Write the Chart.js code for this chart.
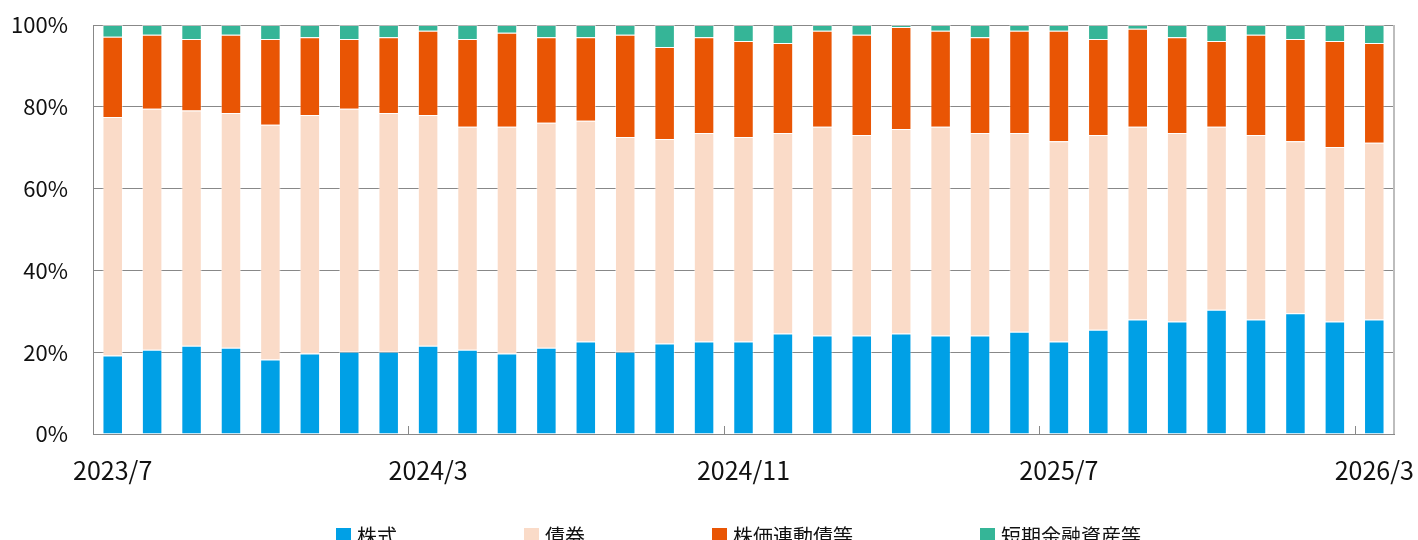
<!DOCTYPE html>
<html lang="ja">
<head>
<meta charset="utf-8">
<script src="https://cdn.jsdelivr.net/npm/chart.js@4/dist/chart.umd.min.js"></script>
<style>
html, body { margin: 0; padding: 0; background: #fff; overflow: hidden; }
#wrap { position: relative; width: 1418px; height: 540px; }
</style>
</head>
<body>
<div id="wrap"><canvas id="assetChart"></canvas></div>
<script>
// 月次の資産構成比（%）
const months = [
    '2023/7', '2023/8', '2023/9', '2023/10', '2023/11', '2023/12',
    '2024/1', '2024/2', '2024/3', '2024/4', '2024/5', '2024/6',
    '2024/7', '2024/8', '2024/9', '2024/10', '2024/11', '2024/12',
    '2025/1', '2025/2', '2025/3', '2025/4', '2025/5', '2025/6',
    '2025/7', '2025/8', '2025/9', '2025/10', '2025/11', '2025/12',
    '2026/1', '2026/2', '2026/3'
];
const stocks = [
    19.2, 20.6, 21.6, 21.1, 18.2, 19.7, 20.1, 20.1, 21.6, 20.6, 19.7, 21.1,
    22.6, 20.1, 22.1, 22.6, 22.6, 24.6, 24.1, 24.1, 24.6, 24.1, 24.1, 25.0,
    22.6, 25.5, 28.0, 27.5, 30.4, 28.0, 29.5, 27.5, 28.0
];
const bonds = [
    58.3, 58.9, 57.5, 57.4, 57.4, 58.3, 59.4, 58.4, 56.4, 54.5, 55.4, 55.0,
    54.0, 52.5, 50.0, 51.0, 50.0, 49.0, 51.0, 49.0, 50.0, 51.0, 49.5, 48.6,
    49.0, 47.6, 47.1, 46.1, 44.7, 45.1, 42.1, 42.7, 43.2
];
const linkedBonds = [
    19.6, 18.1, 17.5, 19.1, 21.0, 19.0, 17.1, 18.5, 20.6, 21.5, 23.0, 20.9,
    20.4, 25.0, 22.5, 23.4, 23.5, 22.0, 23.5, 24.5, 24.9, 23.5, 23.4, 25.0,
    27.0, 23.5, 24.0, 23.4, 21.0, 24.5, 25.0, 25.9, 24.4
];
const shortTerm = [
    2.9, 2.4, 3.4, 2.4, 3.4, 3.0, 3.4, 3.0, 1.4, 3.4, 1.9, 3.0,
    3.0, 2.4, 5.4, 3.0, 3.9, 4.4, 1.4, 2.4, 0.5, 1.4, 3.0, 1.4,
    1.4, 3.4, 0.9, 3.0, 3.9, 2.4, 3.4, 3.9, 4.4
];
const yTicks = [0, 20, 40, 60, 80, 100];

const seriesNames = ['株式', '債券', '株価連動債等', '短期金融資産等'];
const seriesColors = ['#00a0e6', '#fadbc8', '#e95504', '#35b597'];
const seriesData = [stocks, bonds, linkedBonds, shortTerm];

const FONT = "'Noto Sans CJK JP', 'Noto Sans', sans-serif";

// 内側の目盛り・右枠・凡例
const extras = {
    id: 'extras',
    afterDraw(chart) {
        const { ctx, chartArea: a, scales: { x } } = chart;
        ctx.save();
        ctx.strokeStyle = '#bdbdbd';
        ctx.lineWidth = 2;
        ctx.beginPath();
        ctx.moveTo(a.right, a.top);
        ctx.lineTo(a.right, a.bottom);
        ctx.stroke();

        ctx.strokeStyle = '#888';
        ctx.lineWidth = 1;
        for (let i = 8; i < months.length; i += 8) {
            const px = Math.round((x.getPixelForValue(i - 1) + x.getPixelForValue(i)) / 2) + 0.5;
            ctx.beginPath();
            ctx.moveTo(px, a.bottom);
            ctx.lineTo(px, a.bottom - 8);
            ctx.stroke();
        }

        // 凡例
        ctx.font = '20px ' + FONT;
        const box = 15, gap = 6, spacing = 127;
        const widths = seriesNames.map(n => box + gap + ctx.measureText(n).width);
        const total = widths.reduce((s, w) => s + w, 0) + spacing * (widths.length - 1);
        let lx = (a.left + a.right) / 2 - total / 2 - 5;
        const ly = 535;
        ctx.textBaseline = 'middle';
        seriesNames.forEach((n, i) => {
            ctx.fillStyle = seriesColors[i];
            ctx.fillRect(lx, ly - 7, box, box);
            ctx.fillStyle = '#111';
            ctx.fillText(n, lx + box + gap, ly + 1);
            lx += widths[i] + spacing;
        });
        ctx.restore();
    }
};

const ctx = document.getElementById('assetChart');
new Chart(ctx, {
    type: 'bar',
    data: {
        labels: months,
        datasets: seriesNames.map((name, i) => ({
            label: name,
            data: seriesData[i],
            backgroundColor: seriesColors[i],
            borderColor: 'rgba(255, 255, 255, 0.45)',
            borderWidth: 1,
            categoryPercentage: 1,
            barPercentage: 0.52
        }))
    },
    options: {
        responsive: true,
        maintainAspectRatio: false,
        animation: false,
        layout: { padding: { top: 25, right: 24, bottom: 34, left: 0 } },
        plugins: {
            legend: { display: false },
            tooltip: { enabled: false }
        },
        scales: {
            x: {
                stacked: true,
                afterFit(scale) { scale.paddingLeft = 0; scale.paddingRight = 0; },
                grid: { drawOnChartArea: false, drawTicks: false },
                border: { color: '#888', width: 1 },
                ticks: {
                    autoSkip: false,
                    maxRotation: 0,
                    padding: 21,
                    color: '#111',
                    font: { family: FONT, size: 25 },
                    callback: (v, i) => (i % 8 === 0 ? months[i] : '')
                }
            },
            y: {
                stacked: true,
                min: 0,
                max: 100,
                afterFit(scale) { scale.width = 93; scale.paddingTop = 0; scale.paddingBottom = 0; },
                afterBuildTicks(scale) { scale.ticks = yTicks.map(v => ({ value: v })); },
                grid: { color: '#888', drawTicks: false },
                border: { color: '#888', width: 1 },
                ticks: {
                    padding: 25,
                    color: '#111',
                    font: { family: FONT, size: 22 },
                    callback: v => v + '%'
                }
            }
        }
    },
    plugins: [extras]
});
</script>
</body>
</html>
